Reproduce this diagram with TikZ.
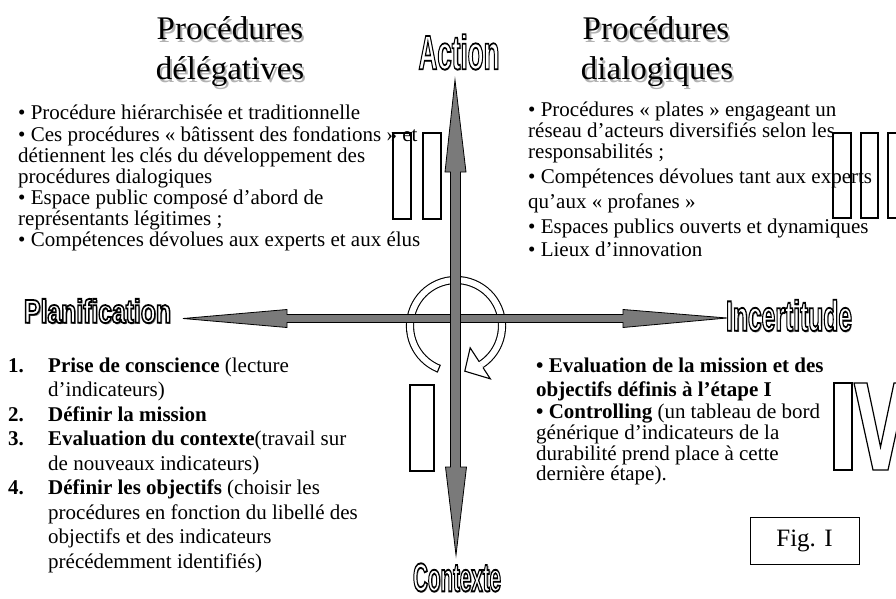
\documentclass[tikz,border=0pt]{standalone}
\usepackage{fontspec}
\setmainfont{Liberation Serif}
\newfontfamily\axisfont{Liberation Sans}
\usetikzlibrary{calc}
\newcommand\outlbl[6]{%
  \node[inner sep=0pt,text=black!55] at ($(#2)+(1.3,1.6)$) {\resizebox{#3}{#4}{\axisfont\bfseries\fontsize{#5}{#5}\selectfont #6}};
  \node[inner sep=0pt] (#1) at (#2) {\resizebox{#3}{#4}{\axisfont\bfseries\fontsize{#5}{#5}\selectfont\special{pdf:literal direct 2 Tr 1.8 w 1 g 0 G}#6\special{pdf:literal direct 0 Tr 0 g 0 G}}};}
\tikzset{
  axisarrow/.style={fill=black!52, draw=black, line width=0.8pt, line join=miter},
  numeral/.style={draw=black, line width=1.2pt},
  body/.style={inner sep=0pt, anchor=base west, font=\fontsize{21}{21}\selectfont},
  title/.style={inner sep=0pt, anchor=base, font=\fontsize{33}{40}\selectfont},
  shadowtitle/.style={title, text=black!30},
}
\begin{document}
\begin{tikzpicture}[x=1pt,y=-1pt]
\useasboundingbox (0,0) rectangle (896,599);
\fill[white] (0,0) rectangle (896,599);

% titles
\node[shadowtitle] (tl1s) at (232,43) {Procédures};
\node[title] (tl1) at (230,40) {Procédures};
\node[shadowtitle] (tl2s) at (232,83) {délégatives};
\node[title] (tl2) at (230,80) {délégatives};
\node[shadowtitle] (tr1s) at (658,43) {Procédures};
\node[title] (tr1) at (656,40) {Procédures};
\node[shadowtitle] (tr2s) at (659,83) {dialogiques};
\node[title] (tr2) at (657,80) {dialogiques};

% ring arrow
\coordinate (c) at (456,326);
\draw[line width=1.1pt, double=white, double distance=6pt] ($(c)+(112:46)$) arc[start angle=112, end angle=417, radius=46];
\draw[line width=1.1pt] ($(c)+(112:41.9)$) -- ($(c)+(112:50.1)$);
\fill[white] ($(c)+(57:26)$) -- ($(c)+(79:46)$) -- ($(c)+(57:63)$) -- cycle;
\draw[line width=1.1pt, line join=miter] ($(c)+(57:42.45)$) -- ($(c)+(57:26)$) -- ($(c)+(79:46)$) -- ($(c)+(57:63)$) -- ($(c)+(57:49.55)$);

% axes
\draw[axisarrow] (183,318.5) -- (287,309.5) -- (287,314.5) -- (623,314.5) -- (623,309.5) -- (727,318) -- (623,327.5) -- (623,322.5) -- (287,322.5) -- (287,327.5) -- cycle;
\draw[axisarrow] (455,80) -- (466,172) -- (460.5,172) -- (460.5,467) -- (466.5,467) -- (456,555) -- (445.5,467) -- (450.5,467) -- (450.5,172) -- (445,172) -- cycle;

% axis labels
\outlbl{action}{459,52}{81pt}{35pt}{48}{Action}
\outlbl{planif}{97.5,311}{147pt}{24pt}{33}{Planification}
\outlbl{incert}{789,315.5}{126pt}{31pt}{42}{Incertitude}
\outlbl{contexte}{457,577.5}{88pt}{28pt}{38}{Contexte}

% text blocks
\node[body] (tlblock) at (18,120) {\begin{tabular}[t]{@{}l@{}}
• Procédure hiérarchisée et traditionnelle\\
• Ces procédures « bâtissent des fondations » et\\
détiennent les clés du développement des\\
procédures dialogiques\\
• Espace public composé d’abord de\\
représentants légitimes ;\\
• Compétences dévolues aux experts et aux élus
\end{tabular}};

\node[body, font=\fontsize{21}{20.5}\selectfont] (trblock) at (528,117) {\begin{tabular}[t]{@{}l@{}}
• Procédures « plates » engageant un\\
réseau d’acteurs diversifiés selon les\\
responsabilités ;\\[4.5pt]
• Compétences dévolues tant aux experts\\[3.5pt]
qu’aux « profanes »\\[4.5pt]
• Espaces publics ouverts et dynamiques\\[2.5pt]
• Lieux d’innovation
\end{tabular}};

\node[body, font=\fontsize{21}{24.5}\selectfont] (blblock) at (8,372) {\begin{tabular}[t]{@{}l@{}}
\makebox[40pt][l]{\textbf{1.}}\textbf{Prise de conscience} (lecture\\
\hspace*{40pt}d’indicateurs)\\
\makebox[40pt][l]{\textbf{2.}}\textbf{Définir la mission}\\
\makebox[40pt][l]{\textbf{3.}}\textbf{Evaluation du contexte}(travail sur\\
\hspace*{40pt}de nouveaux indicateurs)\\
\makebox[40pt][l]{\textbf{4.}}\textbf{Définir les objectifs} (choisir les\\
\hspace*{40pt}procédures en fonction du libellé des\\
\hspace*{40pt}objectifs et des indicateurs\\
\hspace*{40pt}précédemment identifiés)
\end{tabular}};

\node[body, font=\fontsize{21}{20.5}\selectfont] (brblock) at (536,372) {\begin{tabular}[t]{@{}l@{}}
\textbf{• Evaluation de la mission et des}\\[3.5pt]
\textbf{objectifs définis à l’étape I}\\[1.5pt]
\textbf{• Controlling} (un tableau de bord\\
générique d’indicateurs de la\\
durabilité prend place à cette\\
dernière étape).
\end{tabular}};

% roman numerals
\draw[numeral] (393,133) rectangle (411,219);
\draw[numeral] (423,133) rectangle (441,219);
\draw[numeral] (833,133) rectangle (851,218);
\draw[numeral] (861,133) rectangle (878,218);
\draw[numeral] (888,133) rectangle (906,218);
\draw[numeral] (410,385) rectangle (434,471);
\draw[numeral] (834,383) rectangle (852,470);
\draw[numeral, line join=miter] (854,383) -- (867,383) -- (880.5,447) -- (894,383) -- (907,383) -- (888,470) -- (873,470) -- cycle;

% figure label
\node[draw, line width=1pt, minimum width=109pt, minimum height=47pt, inner sep=0pt, font=\fontsize{25}{30}\selectfont] (fig) at (804.5,540.5) {Fig. I};
\end{tikzpicture}
\end{document}
